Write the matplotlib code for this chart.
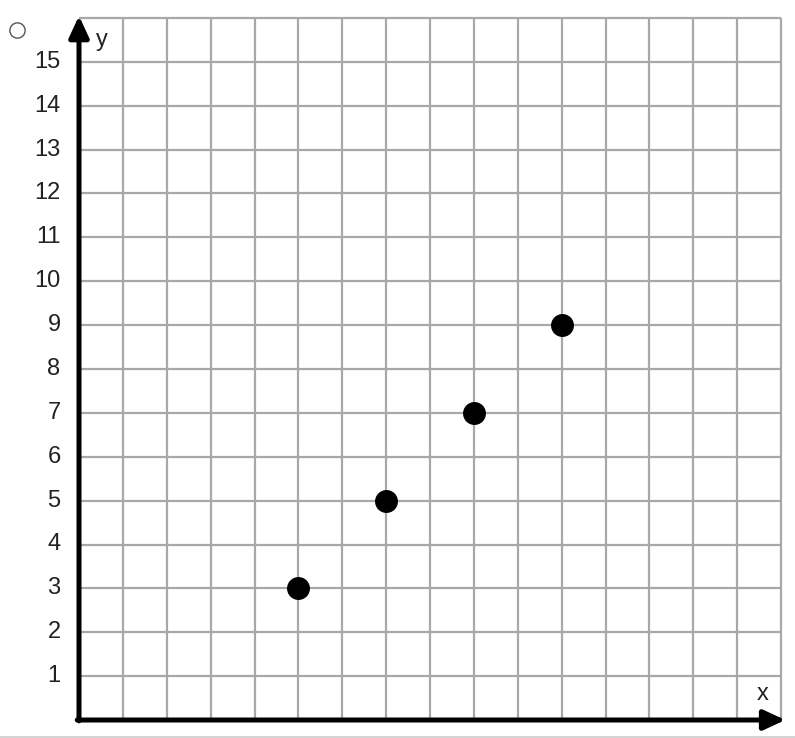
import numpy as np
import matplotlib.pyplot as plt

x_vals = [5, 7, 9, 11]
y_vals = [3, 5, 7, 9]
y_ticks = list(range(1, 16))
grid_max = 16

plt.rcParams['font.family'] = ['Liberation Sans', 'DejaVu Sans']

unit = 43.875  # pixels per grid unit
fig = plt.figure(figsize=(7.95, 7.38), dpi=100)
ax = fig.add_axes([0, 0, 1, 1])
ax.set_xlim(-79 / unit, (795 - 79) / unit)
ax.set_ylim(-(738 - 720) / unit, 720 / unit)
ax.axis('off')

# grid
grid_c = '#a8a8a8'
ax.vlines(np.arange(1, grid_max + 1), 0, grid_max, color=grid_c, lw=1.6, zorder=1)
ax.hlines(np.arange(1, grid_max + 1), 0, grid_max, color=grid_c, lw=1.6, zorder=1)

# axes with arrows
ax.annotate('', xy=(0, grid_max + 0.05), xytext=(0, -0.02),
            arrowprops=dict(arrowstyle='-|>,head_width=0.6,head_length=1.3',
                            lw=3.6, color='black', shrinkA=0, shrinkB=0), zorder=3)
ax.annotate('', xy=(16.1, 0), xytext=(-0.04, 0),
            arrowprops=dict(arrowstyle='-|>,head_width=0.6,head_length=1.3',
                            lw=3.6, color='black', shrinkA=0, shrinkB=0), zorder=3)

for t in y_ticks:
    ax.text(-0.42, t, str(t), ha='right', va='center', fontsize=17, color='#222222')
ax.text(0.52, 15.5, 'y', ha='center', va='center', fontsize=17, color='#222222')
ax.text(15.58, 0.6, 'x', ha='center', va='center', fontsize=17, color='#222222')

ax.scatter(x_vals, y_vals, s=240, color='black', zorder=4)

# radio button and page separator
ax.plot([-62 / unit], [(720 - 30) / unit], marker='o', ms=11, mfc='white',
        mec='#555555', mew=1.0)
ax.axhline(-(737 - 720) / unit, color='#cccccc', lw=1.2)

fig.savefig('out.png', dpi=100)
